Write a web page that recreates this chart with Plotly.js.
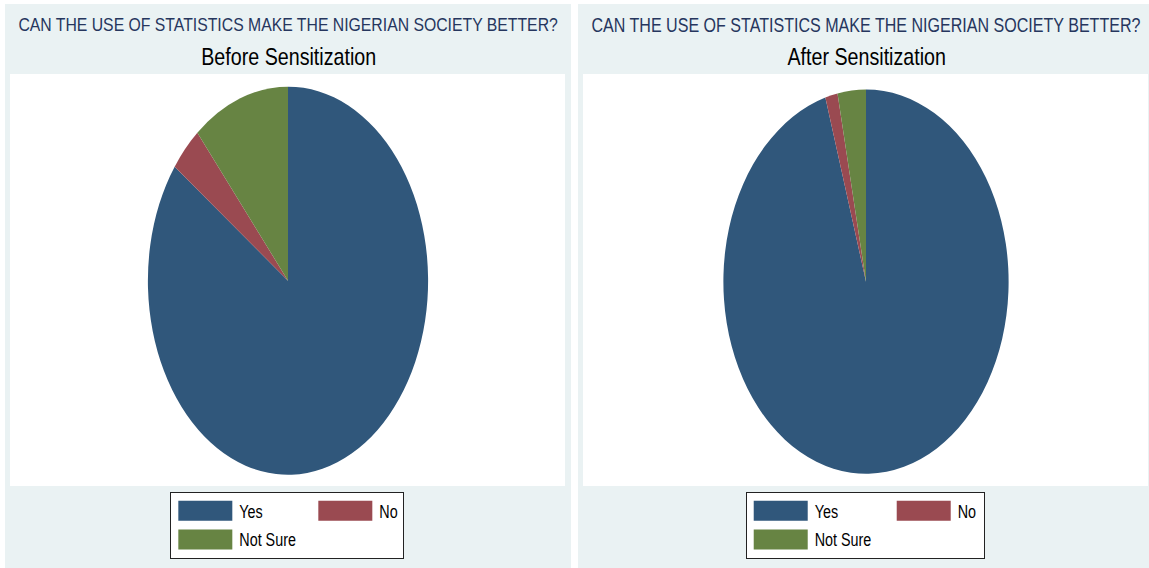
<!DOCTYPE html>
<html><head><meta charset="utf-8">
<script src="https://cdn.plot.ly/plotly-3.0.1.min.js"></script>
<style>
html,body{margin:0;padding:0;background:#fff;width:1149px;height:568px;overflow:hidden;}
#left{position:absolute;left:5px;top:4px;width:566px;height:564px;}
#right{position:absolute;left:578px;top:4px;width:575px;height:564px;}
</style></head><body>
<div id="left"></div><div id="right"></div>
<script>
// ---- data ----
const categories = ['Yes', 'No', 'Not Sure'];
const beforeValues = [85.0, 3.8, 11.2];
const afterValues = [95.4, 1.4, 3.2];
const sliceColors = ['#30577B', '#9A4A51', '#678443'];
const question = 'CAN THE USE OF STATISTICS MAKE THE NIGERIAN SOCIETY BETTER?';
const panelTitles = ['Before Sensitization', 'After Sensitization'];

const FONT = '"Liberation Sans", Arial, sans-serif';
const PANEL_BG = '#EAF2F3';
const NARROW = 0.82;   // horizontal condensing to mimic a narrow face

function condense(el, anchorLeft) {
  const bb = el.getBBox();
  const cx = anchorLeft ? bb.x : bb.x + bb.width / 2;
  const ex = el.getAttribute('transform') || '';
  el.setAttribute('transform', ex + ' translate(' + cx + ',0) scale(' + NARROW + ',1) translate(' + (-cx) + ',0)');
}

function makePanel(divId, values, subtitle, o) {
  const trace = {
    type: 'pie',
    labels: categories,
    values: values,
    sort: false,
    direction: 'clockwise',
    rotation: 0,
    textinfo: 'none',
    hoverinfo: 'label+percent',
    marker: {colors: sliceColors, line: {width: 0}},
    domain: {x: [0, 1], y: o.domY},
    showlegend: true
  };
  const layout = {
    width: o.w, height: 564,
    margin: {l: o.l, r: o.r, t: 70, b: 80, pad: 0},
    paper_bgcolor: PANEL_BG,
    font: {family: FONT, color: '#000'},
    shapes: [{
      type: 'rect', xref: 'paper', yref: 'paper', layer: 'below',
      x0: o.wx0, x1: o.wx1, y0: 0, y1: 1,
      fillcolor: '#ffffff', line: {width: 0}
    }],
    annotations: [
      {text: question, xref: 'paper', yref: 'paper', x: 0.5, y: 1.1196,
       xanchor: 'center', yanchor: 'middle', showarrow: false,
       font: {family: FONT, size: o.ts, color: '#26365E'}},
      {text: subtitle, xref: 'paper', yref: 'paper', x: 0.5, y: 1.0418,
       xanchor: 'center', yanchor: 'middle', showarrow: false,
       font: {family: FONT, size: 24, color: '#000'}}
    ],
    legend: {
      orientation: 'h', x: o.lx, xanchor: 'left', y: -0.0145, yanchor: 'top',
      bgcolor: '#ffffff', bordercolor: '#222', borderwidth: 1,
      font: {family: FONT, size: 17.5, color: '#000'},
      itemwidth: 58, entrywidth: o.ew, entrywidthmode: 'pixels',
      traceorder: 'normal', valign: 'middle', itemclick: false, itemdoubleclick: false
    }
  };
  return Plotly.newPlot(divId, [trace], layout, {displayModeBar: false, responsive: false})
    .then(gd => {
      // elliptical pie, like the original's stretched plot region
      gd.querySelectorAll('.pielayer g.trace').forEach(g => {
        const bb = g.getBBox();
        const cx = bb.x + bb.width / 2;
        const ex = g.getAttribute('transform') || '';
        g.setAttribute('transform', ex + ' translate(' + cx + ',0) scale(' + o.sx + ',1) translate(' + (-cx) + ',0)');
      });
      // wide legend keys
      gd.querySelectorAll('.legend path.legendpie').forEach(p => {
        p.setAttribute('d', 'M-27,-10H27V10H-27Z');
      });
      // narrow text
      gd.querySelectorAll('.annotation-text').forEach(t => condense(t, false));
      gd.querySelectorAll('.legendtext').forEach(t => condense(t, true));
      // legend rows spacing and box size
      const items = Array.from(gd.querySelectorAll('.legend g.traces'));
      let firstY = null;
      items.forEach(it => {
        const m = /translate\(([-\d.]+)[ ,]+([-\d.]+)\)/.exec(it.getAttribute('transform') || '');
        if (!m) return;
        const x = parseFloat(m[1]), y = parseFloat(m[2]);
        if (firstY === null) firstY = y;
        if (y > firstY + 1) it.setAttribute('transform', 'translate(' + x + ',' + (y + 3) + ')');
      });
      gd.querySelectorAll('.legend rect.bg').forEach(r => {
        r.setAttribute('width', o.bw);
        r.setAttribute('height', parseFloat(r.getAttribute('height')) + 3);
      });
      gd.querySelectorAll('clipPath[id^="legend"] rect').forEach(r => {
        r.setAttribute('width', o.bw);
        r.setAttribute('height', parseFloat(r.getAttribute('height')) + 3);
      });
    });
}

makePanel('left', beforeValues, panelTitles[0],
  {w: 566, l: 83, r: 83, domY: [0.0273, 0.9693], wx0: -0.195, wx1: 1.1925, lx: 0.2058, ew: 67, sx: 0.722, bw: 233, ts: 19.25});
makePanel('right', afterValues, panelTitles[1],
  {w: 575, l: 88, r: 87, domY: [0.0297, 0.9621], wx0: -0.2075, wx1: 1.205, lx: 0.1993, ew: 70, sx: 0.7425, bw: 238, ts: 19.6});
</script>
</body></html>
